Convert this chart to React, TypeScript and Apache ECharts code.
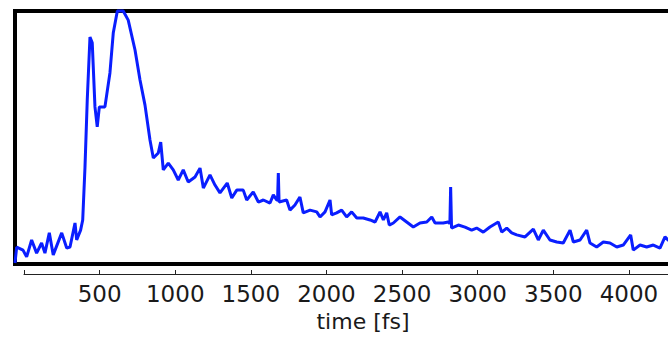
import React, { useEffect, useRef } from "react";
import * as echarts from "echarts";

const timeFs = [
  -62, -51, -9, 15, 48, 81, 114, 136, 165, 191, 247, 280, 302, 335, 346, 372, 386, 401, 416, 434,
  449, 467, 482, 496, 533, 566, 588, 615, 654, 687, 732, 765, 798, 831, 853, 886, 902, 919, 952,
  985, 1018, 1051, 1084, 1129, 1162, 1184, 1228, 1261, 1294, 1342, 1372, 1405, 1448, 1471, 1514,
  1548, 1581, 1625, 1647, 1669, 1675, 1680, 1685, 1735, 1757, 1790, 1823, 1845, 1890, 1934, 1956,
  1989, 2022, 2033, 2066, 2099, 2132, 2165, 2199, 2242, 2287, 2320, 2353, 2375, 2397, 2414, 2441,
  2485, 2529, 2573, 2617, 2662, 2695, 2717, 2771, 2804, 2815, 2820, 2826, 2871, 2915, 2959, 2992,
  3036, 3080, 3135, 3158, 3191, 3224, 3257, 3312, 3367, 3400, 3433, 3477, 3522, 3565, 3610, 3632,
  3676, 3720, 3742, 3786, 3830, 3874, 3919, 3962, 4011, 4028, 4073, 4117, 4161, 4205, 4238, 4258,
  4300,
];

const intensity = [
  0.4, 6.7, 5.5, 2.8, 9.5, 4.3, 8.3, 4.3, 12.3, 3.6, 12.3, 6.3, 6.7, 16.2, 9.5, 13.4, 17.4, 38.3,
  64.8, 89.7, 87.4, 62.1, 54.2, 62.1, 62.1, 75.5, 91.3, 100, 100, 96.4, 84.6, 72.7, 62.8, 49.0,
  41.9, 43.9, 48.2, 37.2, 39.9, 37.2, 33.2, 37.2, 32.4, 34.4, 37.9, 30.0, 35.2, 31.2, 28.1, 32.0,
  26.1, 29.2, 29.2, 25.3, 28.5, 24.5, 25.3, 24.1, 27.3, 25.3, 25.3, 36.0, 24.5, 25.3, 21.3, 23.3,
  26.5, 20.2, 21.3, 20.6, 18.6, 20.6, 25.3, 19.4, 20.2, 21.3, 18.6, 20.6, 18.2, 18.2, 17.4, 16.6,
  20.6, 17.4, 20.2, 15.4, 16.2, 18.6, 16.6, 14.6, 16.2, 16.6, 18.6, 16.2, 16.2, 16.6, 16.0, 30.4,
  14.2, 15.4, 14.6, 13.4, 14.2, 12.6, 14.6, 16.6, 12.6, 14.2, 12.3, 11.5, 10.7, 13.8, 9.5, 13.4,
  9.5, 8.7, 8.3, 13.4, 8.7, 9.5, 13.4, 8.3, 6.7, 8.7, 8.3, 6.7, 7.5, 11.5, 5.5, 7.5, 6.7, 7.5,
  6.3, 10.7, 9.5, 8.0,
];

const tickLabels = [500, 1000, 1500, 2000, 2500, 3000, 3500, 4000];
const axisTitle = "time [fs]";

export default function App() {
  const ref = useRef<HTMLDivElement>(null);

  useEffect(() => {
    if (!ref.current) return;
    const chart = echarts.init(ref.current, null, { renderer: "svg" });
    const seriesData = timeFs.map((t, i) => [t, intensity[i]]);
    chart.setOption({
      animation: false,
      grid: [
        {
          left: 15,
          right: 1,
          top: 11,
          bottom: 74,
          show: true,
          borderColor: "#000",
          borderWidth: 4,
          backgroundColor: "transparent",
          outerBoundsMode: "none",
          containLabel: false,
        },
        {
          left: 24,
          right: 1,
          top: 254,
          bottom: 64,
          show: false,
          outerBoundsMode: "none",
          containLabel: false,
        },
      ],
      xAxis: [
        {
          gridIndex: 0,
          type: "value",
          min: -62,
          max: 4463,
          show: false,
        },
        {
          gridIndex: 1,
          type: "value",
          min: 0,
          max: 4463,
          interval: 500,
          position: "bottom",
          axisLine: {
            show: true,
            onZero: false,
            lineStyle: { color: "#222", width: 1 },
          },
          axisTick: {
            show: true,
            inside: true,
            length: 4,
            lineStyle: { color: "#222", width: 1 },
          },
          axisLabel: {
            show: true,
            customValues: tickLabels,
            formatter: (v: number) => String(v),
            margin: 8,
            fontFamily: "DejaVu Sans",
            fontSize: 23,
            color: "#1a1a1a",
          },
          splitLine: { show: false },
          name: axisTitle,
          nameLocation: "middle",
          nameGap: 36,
          nameTextStyle: {
            fontFamily: "DejaVu Sans",
            fontSize: 22,
            color: "#1a1a1a",
            padding: [0, 0, 0, 3],
          },
        },
      ],
      yAxis: [
        { gridIndex: 0, type: "value", min: 0, max: 100, show: false },
        { gridIndex: 1, type: "value", min: 0, max: 1, show: false },
      ],
      series: [
        {
          type: "line",
          xAxisIndex: 0,
          yAxisIndex: 0,
          data: seriesData,
          showSymbol: false,
          clip: false,
          lineStyle: { color: "#0a1eff", width: 3 },
          itemStyle: { color: "#0a1eff" },
        },
      ],
    });
    return () => chart.dispose();
  }, []);

  return (
    <div
      style={{
        position: "fixed",
        left: 0,
        top: 0,
        width: 668,
        height: 338,
        overflow: "hidden",
        background: "#fff",
      }}
    >
      <div ref={ref} style={{ width: 700, height: 338 }} />
    </div>
  );
}
